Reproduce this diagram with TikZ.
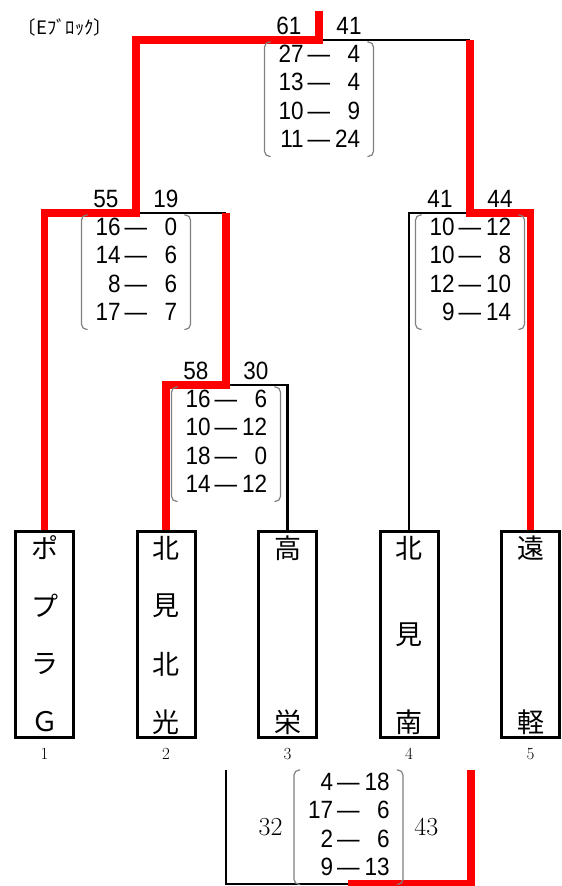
\documentclass[tikz,border=0pt]{standalone}
\usepackage{fontspec}
\usepackage{array}
\usepackage{tikz}
\usetikzlibrary{positioning}
\newfontfamily\jpfont{Noto Sans CJK JP}
\newfontfamily\scorefont[FakeStretch=0.9]{Liberation Sans}
\newcolumntype{R}{>{\raggedleft\arraybackslash}p{26pt}}
% four rows of set scores
\newcommand{\sets}[1]{\begin{tabular}{@{}R@{\hspace{4pt}}c@{\hspace{4pt}}R@{}}#1\end{tabular}}
% gray brackets round a score node
\newcommand{\parens}[1]{%
  \draw[paren] ([xshift=6pt]#1.north west) -- (#1.north west) -- (#1.south west) -- ([xshift=6pt]#1.south west);
  \draw[paren] ([xshift=-6pt]#1.north east) -- (#1.north east) -- (#1.south east) -- ([xshift=-6pt]#1.south east);}
% team name written downwards in a box
\newcommand{\teamname}[3]{%
  \foreach \c [count=\k from 0] in {#3}
    \node[jp] (#1-\k) at ([yshift={-(18+\k*174/#2)*1pt}]#1.north) {\c};}

\begin{document}
\begin{tikzpicture}[x=1pt, y=1pt,
    team/.style={draw, line width=3pt, minimum width=58pt, minimum height=206pt, inner sep=0pt},
    jp/.style={font=\jpfont\fontsize{27}{27}\selectfont, inner sep=0pt},
    pts/.style={font=\scorefont\fontsize{25}{25}\selectfont, inner sep=0pt},
    lpt/.style={pts, xshift=-30pt, yshift=14pt},
    rpt/.style={pts, xshift=30pt, yshift=14pt},
    setbox/.style={font=\scorefont\fontsize{25}{28.5}\selectfont, inner xsep=13pt, inner ysep=0pt, anchor=north},
    paren/.style={draw=gray, line width=1.2pt, rounded corners=5pt},
    win/.style={draw=red, line width=7.5pt},
    lose/.style={draw=black, line width=2.5pt},
    num/.style={font=\fontsize{17}{17}\selectfont}]
  \useasboundingbox (0,0) rectangle (562,886);

  % title
  \node[font=\jpfont\fontsize{18.5}{18.5}\selectfont] (title) at (65,859) {〔Eﾌﾞﾛｯｸ〕};

  % team boxes
  \node[team] (b1) at (44.5,251.5) {};
  \node[team] (b2) at (166,251.5) {};
  \node[team] (b3) at (287.5,251.5) {};
  \node[team] (b4) at (409,251.5) {};
  \node[team] (b5) at (530.5,251.5) {};
  \teamname{b1}{3}{ポ,プ,ラ,Ｇ}
  \teamname{b2}{3}{北,見,北,光}
  \teamname{b3}{1}{高,栄}
  \teamname{b4}{2}{北,見,南}
  \teamname{b5}{1}{遠,軽}
  \node[num, below=6pt of b1] (n1) {1};
  \node[num, below=6pt of b2] (n2) {2};
  \node[num, below=6pt of b3] (n3) {3};
  \node[num, below=6pt of b4] (n4) {4};
  \node[num, below=6pt of b5] (n5) {5};

  % match points
  \coordinate (mB) at (226,501);
  \coordinate (mA) at (136,673);
  \coordinate (mC) at (470,673);
  \coordinate (top) at (319,846);

  % losing lines
  \draw[lose] (b3.north) |- (mB);
  \draw[lose] (mA) -- (mB |- mA);
  \draw[lose] (b4.north) |- (mC);
  \draw[lose] (top) -- (mC |- top);

  % winning lines
  \draw[win] (b2.north) |- (mB) -- (mB |- mA);
  \draw[win] (b5.north) |- (mC) -- (mC |- top);
  \draw[win] (b1.north) |- (mA) |- (top) -- ++(0,29);

  % points and set scores
  \node[lpt] (pT1) at (top) {61};
  \node[rpt] (pT2) at (top) {41};
  \node[setbox] (sT) at ([yshift=-2pt]top) {\sets{27&—&4\\13&—&4\\10&—&9\\11&—&24}};
  \parens{sT}
  \node[lpt] (pA1) at (mA) {55};
  \node[rpt] (pA2) at (mA) {19};
  \node[setbox] (sA) at ([yshift=-2pt]mA) {\sets{16&—&0\\14&—&6\\8&—&6\\17&—&7}};
  \parens{sA}
  \node[lpt] (pB1) at (mB) {58};
  \node[rpt] (pB2) at (mB) {30};
  \node[setbox] (sB) at ([yshift=-2pt]mB) {\sets{16&—&6\\10&—&12\\18&—&0\\14&—&12}};
  \parens{sB}
  \node[lpt] (pC1) at (mC) {41};
  \node[rpt] (pC2) at (mC) {44};
  \node[setbox] (sC) at ([yshift=-2pt]mC) {\sets{10&—&12\\10&—&8\\12&—&10\\9&—&14}};
  \parens{sC}

  % play-off below
  \coordinate (pL) at (226,116);
  \coordinate (pR) at (471,116);
  \coordinate (pM) at (348,2);
  \draw[lose] (pL) |- (pM);
  \draw[win] (pR) |- (pM);
  \node[setbox] (sP) at (348.5,116) {\sets{4&—&18\\17&—&6\\2&—&6\\9&—&13}};
  \parens{sP}
  \node[font=\fontsize{26}{26}\selectfont, left=8pt of sP] (pP1) {32};
  \node[font=\fontsize{26}{26}\selectfont, right=8pt of sP] (pP2) {43};
\end{tikzpicture}
\end{document}
